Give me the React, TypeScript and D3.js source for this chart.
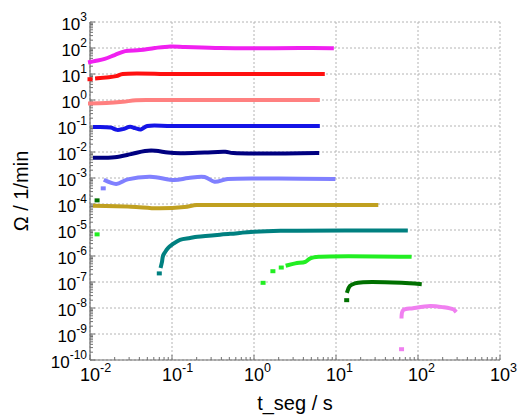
import React from "react";
import * as d3 from "d3";

// ---- data (t_seg in s, Omega in 1/min) ----
const magentaLine: [number, number][] = [
  [0.01, 28.8], [0.0115, 31.6], [0.0151, 38], [0.02, 53.7], [0.0269, 76], [0.0407, 83],
  [0.0617, 100], [0.0955, 115], [0.145, 110], [0.389, 100], [1.17, 98], [3.63, 100], [8.9, 98],
];
const redIso: [number, number][] = [[0.01, 6.3]];
const redLine: [number, number][] = [
  [0.0122, 6.8], [0.0209, 8.3], [0.0251, 10], [0.1, 10], [0.316, 10], [1, 10], [6.9, 10],
];
const salmonLine: [number, number][] = [
  [0.01, 0.74], [0.0158, 0.76], [0.0251, 0.85], [0.0363, 0.98], [0.063, 1.0], [1, 1.0], [6.0, 1.0],
];
const blueLine: [number, number][] = [
  [0.0115, 0.091], [0.0178, 0.087], [0.0214, 0.071], [0.0251, 0.076], [0.0309, 0.093],
  [0.0355, 0.083], [0.0417, 0.074], [0.05, 0.1], [0.1, 0.1], [1, 0.1], [6.0, 0.1],
];
const navyLine: [number, number][] = [
  [0.0115, 0.006], [0.02, 0.0063], [0.0316, 0.0083], [0.0468, 0.011], [0.063, 0.0112],
  [0.089, 0.0095], [0.126, 0.0089], [0.25, 0.0095], [0.447, 0.0102], [0.56, 0.0091], [5.9, 0.0091],
];
const periIso: [number, number][] = [[0.0145, 0.0004]];
const periLine: [number, number][] = [
  [0.0155, 0.00079], [0.0209, 0.00059], [0.0288, 0.00089], [0.055, 0.00112], [0.107, 0.00083],
  [0.158, 0.001], [0.25, 0.0011], [0.33, 0.00072], [0.48, 0.00091], [2.0, 0.00095], [9.3, 0.00091],
];
const oliveLine: [number, number][] = [
  [0.0115, 0.000085], [0.0316, 0.000079], [0.0676, 0.000068], [0.141, 0.000076],
  [0.2, 0.000091], [0.316, 0.000091], [31, 0.000091],
];
const tealIso: [number, number][] = [[0.07, 2.14e-7]];
const tealLine: [number, number][] = [
  [0.0735, 4.1e-7], [0.0755, 5.9e-7], [0.0776, 1e-6], [0.0822, 1.4e-6], [0.0893, 2.0e-6],
  [0.103, 2.9e-6], [0.125, 4.2e-6], [0.166, 4.9e-6], [0.204, 5.5e-6], [0.51, 7.1e-6],
  [1.0, 8.5e-6], [2.1, 9.3e-6], [71, 9.5e-6],
];
const greenIso: [number, number][] = [[0.0122, 6.8e-6], [1.29, 9.3e-8], [1.7, 2.6e-7], [2.15, 3.6e-7]];
const greenLine: [number, number][] = [
  [2.57, 4.4e-7], [3.19, 5.2e-7], [4.23, 6.0e-7], [4.86, 8.1e-7], [6.17, 9.3e-7], [79, 9.3e-7],
];
const dgreenIso: [number, number][] = [[0.0122, 1.38e-4], [13.5, 2.0e-8]];
const dgreenLine: [number, number][] = [
  [13.8, 4.5e-8], [14.8, 7.1e-8], [17, 8.9e-8], [21.4, 9.8e-8], [63, 9.3e-8], [105, 8.3e-8],
];
const violetIso: [number, number][] = [[63, 2.6e-10]];
const violetLine: [number, number][] = [
  [63, 4.7e-9], [66, 8.3e-9], [87, 9.8e-9], [141, 1.2e-8], [204, 1.07e-8], [269, 8.9e-9], [282, 7.9e-9],
];

const xExponents = [-2, -1, 0, 1, 2, 3];
const yExponents = [3, 2, 1, 0, -1, -2, -3, -4, -5, -6, -7, -8, -9, -10];

const none: [number, number][] = [];
const series = [
  { color: "#f020f0", line: magentaLine, iso: none },
  { color: "#ff1010", line: redLine, iso: redIso },
  { color: "#ff8080", line: salmonLine, iso: none },
  { color: "#1414e6", line: blueLine, iso: none },
  { color: "#000080", line: navyLine, iso: none },
  { color: "#8080ff", line: periLine, iso: periIso },
  { color: "#c0a020", line: oliveLine, iso: none },
  { color: "#008080", line: tealLine, iso: tealIso },
  { color: "#22ee22", line: greenLine, iso: greenIso },
  { color: "#007000", line: dgreenLine, iso: dgreenIso },
  { color: "#f080f0", line: violetLine, iso: violetIso },
];

const W = 521, H = 416;
const L = 90, R = 500, T = 22, B = 360;

export default function App() {
  const x = d3.scaleLog().domain([1e-2, 1e3]).range([L, R]);
  const y = d3.scaleLog().domain([1e-10, 1e3]).range([B, T]);
  const line = d3
    .line<[number, number]>()
    .x((d) => x(d[0]))
    .y((d) => y(d[1]))
    .curve(d3.curveCatmullRom.alpha(0.5));

  const xMinor: number[] = [];
  for (let e = -2; e < 3; e++) for (let k = 2; k <= 9; k++) xMinor.push(k * Math.pow(10, e));
  const yMinor: number[] = [];
  for (let e = -10; e < 3; e++) for (let k = 2; k <= 9; k++) yMinor.push(k * Math.pow(10, e));

  const font = "Liberation Sans, Arial, sans-serif";
  const axisCol = "#707070";
  const gridCol = "#b4b4b4";

  return (
    <svg width={W} height={H} style={{ position: "absolute", left: 0, top: 0, background: "#fff" }} fontFamily={font}>
      {/* grid */}
      {xExponents.map((e) => (
        <line key={"gx" + e} x1={x(Math.pow(10, e))} x2={x(Math.pow(10, e))} y1={T} y2={B}
          stroke={gridCol} strokeWidth={1} strokeDasharray="2,2" />
      ))}
      {yExponents.map((e) => (
        <line key={"gy" + e} x1={L} x2={R} y1={y(Math.pow(10, e))} y2={y(Math.pow(10, e))}
          stroke={gridCol} strokeWidth={1} strokeDasharray="2,2" />
      ))}
      {/* axes */}
      <line x1={L} x2={L} y1={T} y2={B} stroke={axisCol} strokeWidth={1.2} />
      <line x1={L} x2={R} y1={B} y2={B} stroke={axisCol} strokeWidth={1.2} />
      {xMinor.map((v, i) => (
        <line key={"xm" + i} x1={x(v)} x2={x(v)} y1={B} y2={B - 3} stroke={axisCol} strokeWidth={1} />
      ))}
      {xExponents.map((e) => (
        <line key={"xM" + e} x1={x(Math.pow(10, e))} x2={x(Math.pow(10, e))} y1={B} y2={B - 5} stroke={axisCol} strokeWidth={1} />
      ))}
      {yMinor.map((v, i) => (
        <line key={"ym" + i} x1={L} x2={L + 3} y1={y(v)} y2={y(v)} stroke={axisCol} strokeWidth={1} />
      ))}
      {yExponents.map((e) => (
        <line key={"yM" + e} x1={L} x2={L + 5} y1={y(Math.pow(10, e))} y2={y(Math.pow(10, e))} stroke={axisCol} strokeWidth={1} />
      ))}
      {/* series */}
      {series.map((s, i) => (
        <g key={"s" + i}>
          <path d={line(s.line) || ""} fill="none" stroke={s.color} strokeWidth={4} strokeLinecap="square" strokeLinejoin="round" />
          {s.iso.map((p, j) => (
            <rect key={j} x={x(p[0]) - 2.5} y={y(p[1]) - 2} width={5} height={4} fill={s.color} />
          ))}
        </g>
      ))}
      {/* y tick labels */}
      {yExponents.map((e) => (
        <text key={"yl" + e} x={L - 3} y={y(Math.pow(10, e)) + 8} textAnchor="end" fontSize={17} fill="#000">
          10<tspan fontSize={12} dy={-9}>{e}</tspan>
        </text>
      ))}
      {/* x tick labels */}
      {xExponents.map((e) => (
        <g key={"xl" + e}>
          <text x={x(Math.pow(10, e))} y={B + 21} textAnchor="middle" fontSize={18} fill="#000">10</text>
          <text x={x(Math.pow(10, e)) + 10} y={B + 12} textAnchor="start" fontSize={12.5} fill="#000">{e}</text>
        </g>
      ))}
      {/* axis titles */}
      <text x={295} y={410} textAnchor="middle" fontSize={20} fill="#000">t_seg / s</text>
      <text transform={`translate(28,191) rotate(-90)`} textAnchor="middle" fontSize={20} fill="#000">Ω / 1/min</text>
    </svg>
  );
}
